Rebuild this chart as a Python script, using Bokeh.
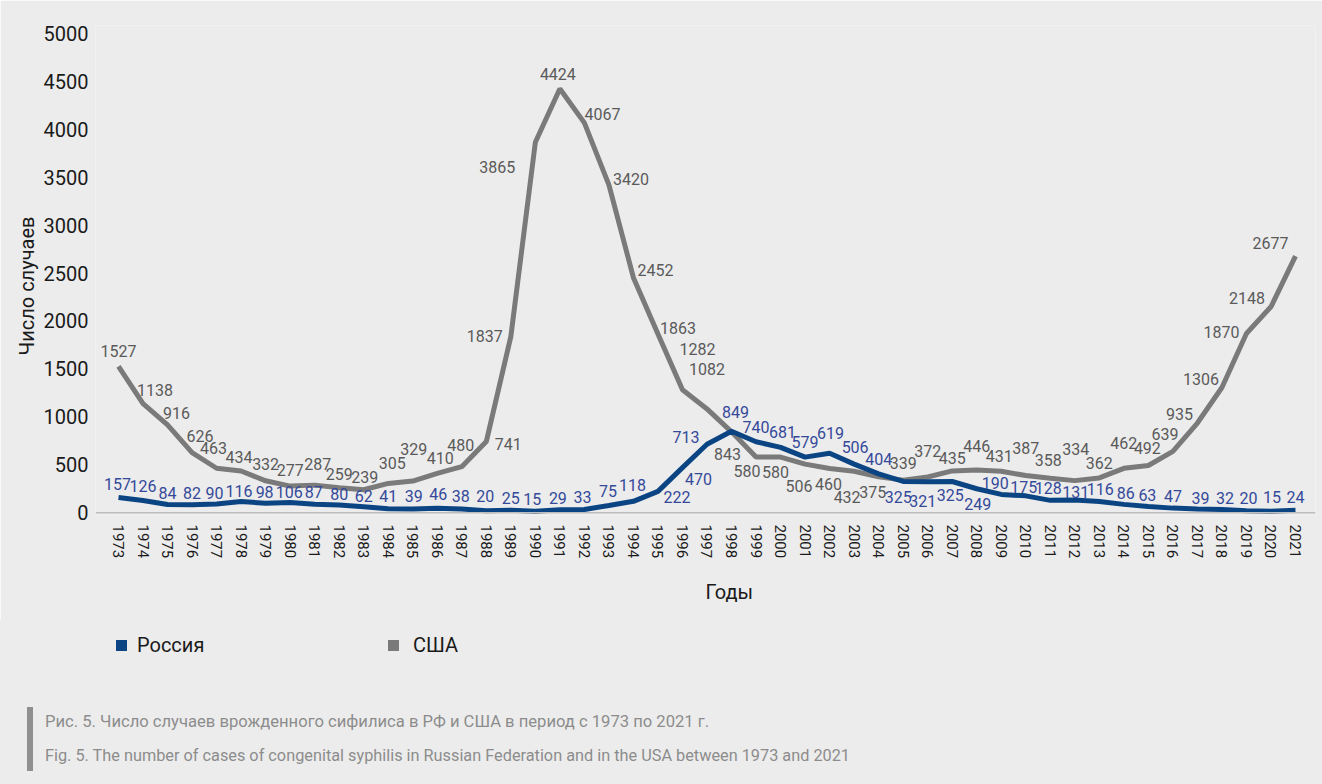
from bokeh.plotting import figure
from bokeh.layouts import column
from bokeh.models import (ColumnDataSource, LabelSet, Range1d, FixedTicker, Span, Div, Title)
from bokeh.core.properties import value
from bokeh.embed import file_html
from bokeh.resources import INLINE

# ---------------- data ----------------
years = list(range(1973, 2022))
russia = [157, 126, 84, 82, 90, 116, 98, 106, 87, 80, 62, 41, 39, 46, 38, 20, 25, 15, 29, 33,
          75, 118, 222, 470, 713, 849, 740, 681, 579, 619, 506, 404, 325, 321, 325, 249, 190,
          175, 128, 131, 116, 86, 63, 47, 39, 32, 20, 15, 24]
usa = [1527, 1138, 916, 626, 463, 434, 332, 277, 287, 259, 239, 305, 329, 410, 480, 741, 1837,
       3865, 4424, 4067, 3420, 2452, 1863, 1282, 1082, 843, 580, 580, 506, 460, 432, 375, 339,
       372, 435, 446, 431, 387, 358, 334, 362, 462, 492, 639, 935, 1306, 1870, 2148, 2677]
y_ticks = list(range(0, 5001, 500))
series_names = ["Россия", "США"]
x_title = "Годы"
y_title = "Число случаев"
caption_ru = "Рис. 5. Число случаев врожденного сифилиса в РФ и США в период с 1973 по 2021 г."
caption_en = ("Fig. 5. The number of cases of congenital syphilis in Russian Federation "
              "and in the USA between 1973 and 2021")

# ---------------- label placement (screen px; dy > 0 = up) ----------------
ru_dx = [-1, 0, 0, 0, -2, -2, -1, -1, -1, 0, 0, 0, 1, 1, -1, -1, 0, -3, -2, -2, -1, -1, 19, 16,
         -21, 4, 0, 2, 0, 1, 1, 0, -5, -5, -2, 1, -6, -2, -2, 1, 1, 2, -1, 0, 3, 3, 2, 1, 0]
ru_dy = [14, 15, 12, 12, 11, 11, 11, 10, 12, 11, 11, 13, 13, 14, 13, 15, 12, 12, 12, 12, 14, 16,
         -6, -11, 7, 19, 15, 15, 15, 20, 17, 15, -16, -19, -14, -15, 11, 9, 12, 8, 13, 11, 12,
         12, 11, 12, 13, 14, 13]
us_dx = [0, 12, 9, 8, -3, -2, 0, 0, 3, 0, 1, 4, 1, 3, -1, 22, -26, -38, -2, 18, 22, 22, 20, 15,
         0, -4, -9, -5, -6, -1, -7, -6, 0, 0, 0, 0, -2, 0, -2, 1, 0, 0, -1, -8, -18, -21, -25,
         -24, -25]
us_dy = [15, 14, 12, 17, 20, 14, 17, 16, 21, 14, 13, 20, 32, 15, 22, -2, 1, -25, 15, 9, 6, 8, 6,
         41, 40, -22, -14, -15, -22, -15, -26, -15, 17, 26, 13, 24, 15, 28, 18, 32, 15, 25, 17,
         17, 9, 8, 1, 9, 13]

# ---------------- style ----------------
BG = "#ECECEC"
RU_LINE = "#0B4483"
RU_TEXT = "#34499A"
US_LINE = "#7A7A7A"
US_TEXT = "#5A5A5A"
AX_TEXT = "#1A1A1A"
CAP_TEXT = "#8C8C8C"
FONT = "Roboto"
W = 1322
TOP_H = 620
BOT_H = 784 - TOP_H

p = figure(width=W, height=TOP_H, output_backend="svg", toolbar_location=None,
           x_range=Range1d(1972.062, 2021.816), y_range=Range1d(-30, 5083.5),
           min_border_left=95, min_border_right=7, min_border_top=25,
           min_border_bottom=TOP_H - 515,
           background_fill_color=BG, border_fill_color=BG, outline_line_color=None)
p.xgrid.grid_line_color = None
p.ygrid.grid_line_color = None

# x axis
xa = p.xaxis[0]
xa.ticker = FixedTicker(ticks=years)
xa.major_label_orientation = "vertical"
xa.axis_line_color = None
xa.major_tick_line_color = None
xa.minor_tick_line_color = None
xa.major_tick_out = 0
xa.major_label_standoff = 9
xa.major_label_text_font = FONT
xa.major_label_text_font_size = "15px"
xa.major_label_text_color = AX_TEXT

# y axis
ya = p.yaxis[0]
ya.ticker = FixedTicker(ticks=y_ticks)
ya.axis_line_color = None
ya.major_tick_line_color = None
ya.minor_tick_line_color = None
ya.major_tick_out = 0
ya.major_label_standoff = 7
ya.major_label_text_font = FONT
ya.major_label_text_font_size = "20px"
ya.major_label_text_color = AX_TEXT

# axis titles as side-panel titles (allows off-centre placement)
p.add_layout(Title(text=x_title, align="left", offset=610, standoff=32,
                   text_font=FONT, text_font_size="20px", text_font_style="normal",
                   text_color=AX_TEXT), "below")
p.add_layout(Title(text=y_title, align="left", offset=160, standoff=3,
                   text_font=FONT, text_font_size="20px", text_font_style="normal",
                   text_color=AX_TEXT), "left")

# baseline at zero
p.add_layout(Span(location=0, dimension="width", line_color="#BDBDBD", line_width=1.5))

# lines
p.line(years, usa, line_width=5, line_color=US_LINE)
p.line(years, russia, line_width=5, line_color=RU_LINE)

# data labels
src_us = ColumnDataSource(dict(x=years, y=usa, t=[str(v) for v in usa], dx=us_dx, dy=us_dy))
src_ru = ColumnDataSource(dict(x=years, y=russia, t=[str(v) for v in russia], dx=ru_dx, dy=ru_dy))
for src, col in ((src_us, US_TEXT), (src_ru, RU_TEXT)):
    p.add_layout(LabelSet(x="x", y="y", text="t", x_offset="dx", y_offset="dy", source=src,
                          text_align="center", text_baseline="middle",
                          text_font=value(FONT), text_font_size="16px", text_color=col))

# ---------------- bottom panel: legend + caption (HTML) ----------------
def box(left, top, w, h, color):
    return (f'<div style="position:absolute;left:{left}px;top:{top}px;width:{w}px;'
            f'height:{h}px;background:{color};"></div>')

def txt(left, top, s, size, color, lh):
    return (f'<div style="position:absolute;left:{left}px;top:{top}px;white-space:nowrap;'
            f'font-family:{FONT};font-size:{size}px;line-height:{lh}px;color:{color};">{s}</div>')

html = (
    f'<div style="position:relative;width:{W}px;height:{BOT_H}px;background:{BG};margin:0;">'
    + box(116, 20, 11, 11, RU_LINE)
    + txt(137, 13, series_names[0], 20, AX_TEXT, 24)
    + box(388, 20, 11, 11, US_LINE)
    + txt(413, 13, series_names[1], 20, AX_TEXT, 24)
    + box(27, 87, 6, 64, "#8F8F8F")
    + txt(45, 92, caption_ru, 16.6, CAP_TEXT, 20)
    + txt(45, 126, caption_en, 16.3, CAP_TEXT, 20)
    + '</div>'
)
legend_caption = Div(text=html, width=W, height=BOT_H, margin=0,
                     styles={"background-color": BG, "margin": "0", "padding": "0"})

layout = column(p, legend_caption, spacing=0)
open("out.html", "w").write(file_html(layout, INLINE))
